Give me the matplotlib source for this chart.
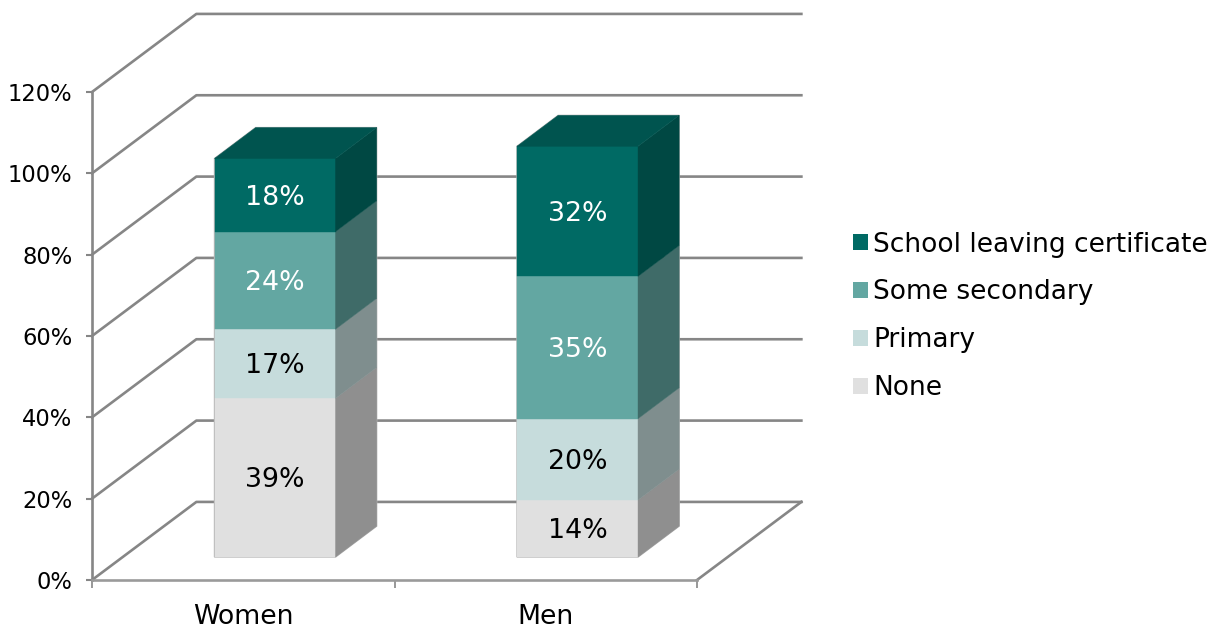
"""Stacked 3D-look column chart of education level by sex."""

import matplotlib
matplotlib.use('Agg')
import matplotlib.pyplot as plt
from matplotlib.patches import Patch, Polygon
from matplotlib.ticker import PercentFormatter

groups = ['Women', 'Men']
levels = ['None', 'Primary', 'Some secondary', 'School leaving certificate']
women = [39, 17, 24, 18]
men = [14, 20, 35, 32]
yticks = [0, 20, 40, 60, 80, 100, 120]

front_colors = ['#e0e0e0', '#c6dcdc', '#63a7a2', '#006a64']
side_colors = ['#8f8f8f', '#7f8e8e', '#3f6b68', '#004843']
top_color = '#00544f'
label_colors = ['black', 'black', 'white', 'white']

GRID = '#868686'
W, H = 1213, 628
# front plane of the chart box, in pixels
LEFT, RIGHT, BOTTOM, TOP = 92, 697, 580, 92
# depth of the box and of the columns, in data units
BOX_DX, BOX_DY = 0.345, 19.2
BAR_DX, BAR_DY = 0.136, 7.6
BAR_BASE = 5.65
BAR_OFFSET = 0.405
BAR_W = 0.4
LW = 1.9
FONT = 19.3
LABEL_NUDGE = 0.6  # labels sit a little under the segment centre

fig = plt.figure(figsize=(W / 100, H / 100), dpi=100)
ax = fig.add_axes([LEFT / W, 1 - BOTTOM / H, (RIGHT - LEFT) / W, (BOTTOM - TOP) / H])
ax.set_xlim(0, 2)
ax.set_ylim(0, 120)
ax.patch.set_visible(False)

for s in ['top', 'right']:
    ax.spines[s].set_visible(False)
ax.spines['left'].set_color(GRID)
ax.spines['left'].set_linewidth(LW)
ax.spines['bottom'].set_color('#9a9a9a')
ax.spines['bottom'].set_linewidth(LW)

ax.set_yticks(yticks)
ax.yaxis.set_major_formatter(PercentFormatter(decimals=0))
ax.tick_params(axis='y', length=4, width=1.5, color=GRID, labelsize=16.3, pad=10)
ax.set_xticks([0, 1, 2])
ax.set_xticklabels([])
ax.set_xticks([0.5, 1.5], labels=groups, minor=True)
ax.tick_params(axis='x', which='major', length=6, width=1.2, color=GRID)
ax.tick_params(axis='x', which='minor', length=0, labelsize=FONT, pad=17)

# back wall and floor gridlines
for y in yticks:
    ax.plot([0, BOX_DX, 2 + BOX_DX], [y, y + BOX_DY, y + BOX_DY], color=GRID, lw=LW,
            clip_on=False, zorder=1, solid_joinstyle='round')
ax.plot([2, 2 + BOX_DX], [0, BOX_DY], color=GRID, lw=LW, clip_on=False, zorder=1)

# columns are drawn as front, side and top faces
for i, vals in enumerate([women, men]):
    x0 = i + BAR_OFFSET
    x1 = x0 + BAR_W
    base = BAR_BASE
    total = sum(vals)
    # light outline round the whole column
    ax.add_patch(Polygon([(x0, base), (x1, base), (x1 + BAR_DX, base + BAR_DY),
                          (x1 + BAR_DX, base + total + BAR_DY),
                          (x0 + BAR_DX, base + total + BAR_DY), (x0, base + total)],
                         closed=True, fc='none', ec='#b8b8b8', lw=1.0, clip_on=False, zorder=2))
    for val, fc, sc, lc in zip(vals, front_colors, side_colors, label_colors):
        top = base + val
        ax.add_patch(Polygon([(x0, base), (x1, base), (x1, top), (x0, top)], closed=True,
                             fc=fc, ec=fc, lw=0.3, clip_on=False, zorder=3))
        ax.add_patch(Polygon([(x1, base), (x1 + BAR_DX, base + BAR_DY),
                              (x1 + BAR_DX, top + BAR_DY), (x1, top)], closed=True,
                             fc=sc, ec=sc, lw=0.3, clip_on=False, zorder=3))
        ax.text((x0 + x1) / 2, base + val / 2 - LABEL_NUDGE, f'{val}%', color=lc, fontsize=FONT,
                ha='center', va='center', zorder=4)
        base = top
    ax.add_patch(Polygon([(x0, base), (x1, base), (x1 + BAR_DX, base + BAR_DY),
                          (x0 + BAR_DX, base + BAR_DY)], closed=True,
                         fc=top_color, ec=top_color, lw=0.3, clip_on=False, zorder=3))

handles = [Patch(fc=c, ec='none') for c in front_colors]
fig.legend(handles[::-1], levels[::-1], loc='upper left', bbox_to_anchor=(842 / W, 1 - 221 / H),
           frameon=False, fontsize=19, handlelength=0.57, handleheight=0.57,
           handletextpad=0.22, labelspacing=0.83, borderpad=0.4, borderaxespad=0)

fig.savefig('out.png', dpi=100)
